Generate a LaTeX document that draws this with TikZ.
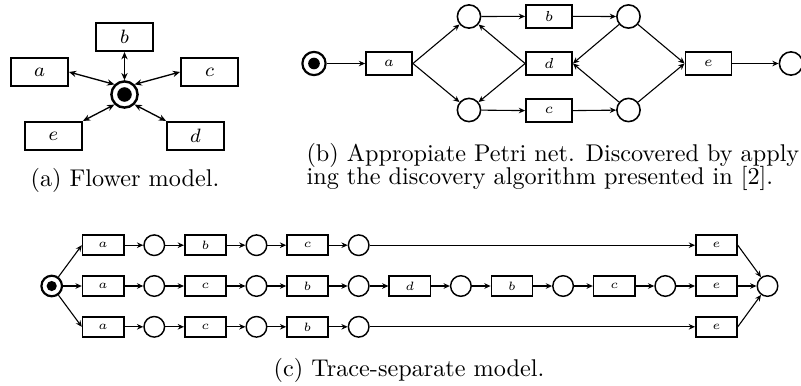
\documentclass[tikz,border=0pt]{standalone}
\usepackage{amsmath,amssymb}
\usepackage{tikz}
\usetikzlibrary{arrows.meta,positioning}

\begin{document}
\begin{tikzpicture}[
  x=0.413pt, y=-0.413pt,
  node distance=7.73pt,
  ftrans/.style={rectangle,draw,line width=0.85pt,minimum width=23.5pt,minimum height=11.6pt,inner sep=0pt,font=\footnotesize},
  ptrans/.style={rectangle,draw,line width=0.75pt,minimum width=19pt,minimum height=9.5pt,inner sep=0pt,font=\fontsize{6}{7}\selectfont},
  strans/.style={rectangle,draw,line width=0.65pt,minimum width=17pt,minimum height=8.3pt,inner sep=0pt,font=\tiny},
  place/.style={circle,draw,line width=0.65pt,minimum size=9.6pt,inner sep=0pt},
  splace/.style={circle,draw,line width=0.6pt,minimum size=8.5pt,inner sep=0pt},
  marked/.style={line width=0.9pt,path picture={\fill (path picture bounding box.center) circle[radius=#1];}},
  arrow/.style={-{Stealth[length=2.6pt,width=2.3pt]},line width=0.45pt},
  darrow/.style={{Stealth[length=3pt,width=2.6pt]}-{Stealth[length=3pt,width=2.6pt]},line width=0.55pt}
]
  \useasboundingbox (0,0) rectangle (801,385);

  % Flower model
  \node[place,marked=3pt,minimum size=10.8pt,line width=1pt] (fp) at (124.5,94.5) {};
  \node[ftrans] (fb) at (124.5,37) {$b$};
  \node[ftrans] (fa) at (39.5,72) {$a$};
  \node[ftrans] (fc) at (209.5,72) {$c$};
  \node[ftrans] (fe) at (53.5,136) {$e$};
  \node[ftrans] (fd) at (195.5,136) {$d$};

  \draw[darrow] (fb.south) -- (fp.north);
  \draw[darrow] (fa.east) -- (fp.north west);
  \draw[darrow] (fc.west) -- (fp.north east);
  \draw[darrow] (fe.north east) -- (fp.south west);
  \draw[darrow] (fd.north west) -- (fp.south east);

  \node[anchor=base] (capa) at (125,186) {(a) Flower model.};

  % Discovered Petri net
  \node[place,marked=2.4pt] (p0) at (314,63.5) {};
  \node[ptrans] (ta) at (389,63.5) {$a$};
  \node[ptrans] (td) at (549,63.5) {$d$};
  \node[ptrans,above=9.2pt of td] (tb) {$b$};
  \node[ptrans,below=9.2pt of td] (tc) {$c$};
  \node[place] (p1) at (469,16.5) {};
  \node[place] (p2) at (469,110) {};
  \node[place] (p3) at (628.5,16.5) {};
  \node[place] (p4) at (628.5,110) {};
  \node[ptrans] (te) at (708.5,63.5) {$e$};
  \node[place] (p5) at (791,63.5) {};

  \draw[arrow] (p0) -- (ta.west);
  \draw[arrow] (ta.east) -- (p1);
  \draw[arrow] (ta.east) -- (p2);
  \draw[arrow] (p1) -- (tb.west);
  \draw[arrow] (p2) -- (tc.west);
  \draw[arrow] (td.west) -- (p1);
  \draw[arrow] (td.west) -- (p2);
  \draw[arrow] (tb.east) -- (p3);
  \draw[arrow] (tc.east) -- (p4);
  \draw[arrow] (p3) -- (td.east);
  \draw[arrow] (p4) -- (td.east);
  \draw[arrow] (p3) -- (te.west);
  \draw[arrow] (p4) -- (te.west);
  \draw[arrow] (te.east) -- (p5);

  \node[anchor=base west] (capb1) at (298,161) {(b) Appropiate Petri net. Discovered by apply};
  \node[anchor=base west] (capb2) at (298,184) {ing the discovery algorithm presented in [2].};

  % Trace-separate model, middle trace
  \node[splace,marked=2.1pt] (s0) at (51.7,286) {};
  \node[strans,right=of s0] (m1) {$a$};
  \node[splace,right=of m1] (m2) {};
  \node[strans,right=of m2] (m3) {$c$};
  \node[splace,right=of m3] (m4) {};
  \node[strans,right=of m4] (m5) {$b$};
  \node[splace,right=of m5] (m6) {};
  \node[strans,right=of m6] (m7) {$d$};
  \node[splace,right=of m7] (m8) {};
  \node[strans,right=of m8] (m9) {$b$};
  \node[splace,right=of m9] (m10) {};
  \node[strans,right=of m10] (m11) {$c$};
  \node[splace,right=of m11] (m12) {};
  \node[strans,right=of m12] (m13) {$e$};
  \node[splace,right=of m13] (s1) {};

  % upper trace
  \node[strans,above=7.9pt of m1] (u1) {$a$};
  \node[splace,right=of u1] (u2) {};
  \node[strans,right=of u2] (u3) {$b$};
  \node[splace,right=of u3] (u4) {};
  \node[strans,right=of u4] (u5) {$c$};
  \node[splace,right=of u5] (u6) {};
  \node[strans,above=7.9pt of m13] (u13) {$e$};

  % lower trace
  \node[strans,below=7.9pt of m1] (l1) {$a$};
  \node[splace,right=of l1] (l2) {};
  \node[strans,right=of l2] (l3) {$c$};
  \node[splace,right=of l3] (l4) {};
  \node[strans,right=of l4] (l5) {$b$};
  \node[splace,right=of l5] (l6) {};
  \node[strans,below=7.9pt of m13] (l13) {$e$};

  \draw[arrow] (s0) -- (u1.west);
  \draw[arrow] (s0) -- (m1.west);
  \draw[arrow] (s0) -- (l1.west);

  \draw[arrow] (u1) -- (u2);
  \draw[arrow] (u2) -- (u3);
  \draw[arrow] (u3) -- (u4);
  \draw[arrow] (u4) -- (u5);
  \draw[arrow] (u5) -- (u6);
  \draw[arrow] (u6) -- (u13);

  \draw[arrow] (m1) -- (m2);
  \draw[arrow] (m2) -- (m3);
  \draw[arrow] (m3) -- (m4);
  \draw[arrow] (m4) -- (m5);
  \draw[arrow] (m5) -- (m6);
  \draw[arrow] (m6) -- (m7);
  \draw[arrow] (m7) -- (m8);
  \draw[arrow] (m8) -- (m9);
  \draw[arrow] (m9) -- (m10);
  \draw[arrow] (m10) -- (m11);
  \draw[arrow] (m11) -- (m12);
  \draw[arrow] (m12) -- (m13);

  \draw[arrow] (l1) -- (l2);
  \draw[arrow] (l2) -- (l3);
  \draw[arrow] (l3) -- (l4);
  \draw[arrow] (l4) -- (l5);
  \draw[arrow] (l5) -- (l6);
  \draw[arrow] (l6) -- (l13);

  \draw[arrow] (u13.east) -- (s1);
  \draw[arrow] (m13.east) -- (s1);
  \draw[arrow] (l13.east) -- (s1);

  \node[anchor=base] (capc) at (409,376) {(c) Trace-separate model.};
\end{tikzpicture}
\end{document}
